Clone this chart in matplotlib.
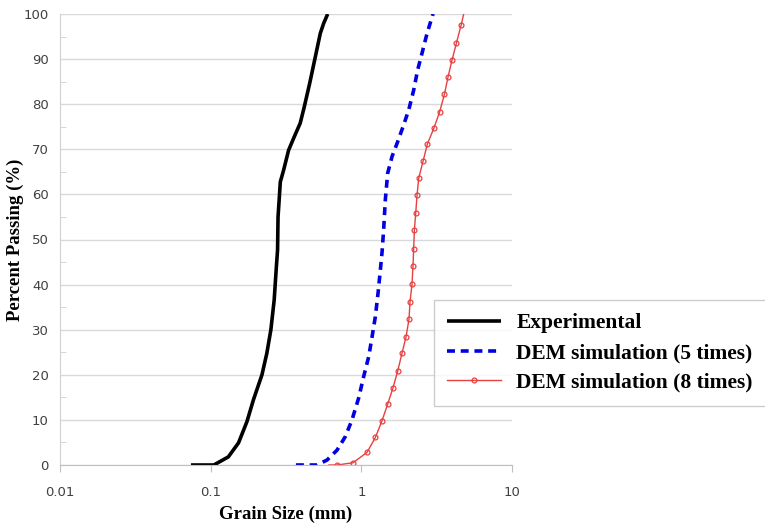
import numpy as np
import matplotlib
matplotlib.use("Agg")
import matplotlib.pyplot as plt
from matplotlib.ticker import FixedLocator, NullLocator

# ----------------------------------------
# data
# ----------------------------------------
exp_size = [0.074, 0.105, 0.131, 0.153, 0.174, 0.192, 0.219, 0.236, 0.251, 0.264,
            0.272, 0.278, 0.280, 0.290, 0.305, 0.329, 0.359, 0.393, 0.418, 0.454,
            0.495, 0.534, 0.562, 0.598]
exp_pass = [0, 0, 1.8, 4.9, 9.6, 14.4, 20.0, 24.8, 30.0, 36.6,
            43.2, 47.7, 55.0, 62.8, 65.4, 69.8, 72.8, 75.8, 79.4, 84.6,
            90.5, 95.7, 97.9, 100]

dem5_size = [0.368, 0.508, 0.592, 0.690, 0.783, 0.867, 0.959, 1.036, 1.119, 1.178,
             1.239, 1.290, 1.337, 1.371, 1.406, 1.443, 1.496, 1.599, 1.726, 1.891,
             2.062, 2.225, 2.365, 2.528, 2.730, 2.990]
dem5_pass = [0, 0, 1.1, 3.3, 6.3, 10.0, 14.8, 19.6, 24.0, 28.4,
             32.9, 38.0, 43.2, 47.0, 52.1, 58.8, 64.7, 68.4, 71.3, 75.0,
             78.7, 83.1, 87.6, 91.3, 95.7, 100]

dem8_size = [0.689, 0.881, 1.091, 1.239, 1.371, 1.496, 1.622, 1.742, 1.862, 1.980,
             2.073, 2.104, 2.169, 2.203, 2.225, 2.249, 2.296, 2.344, 2.404, 2.570,
             2.745, 3.040, 3.310, 3.560, 3.760, 4.000, 4.280, 4.600, 4.780]
dem8_pass = [0, 0.5, 2.8, 6.1, 9.8, 13.5, 17.1, 20.8, 24.8, 28.4,
             32.4, 36.2, 40.1, 44.2, 48.0, 52.0, 55.9, 59.9, 63.6, 67.4,
             71.2, 74.8, 78.3, 82.2, 86.0, 89.8, 93.6, 97.6, 100]

x_ticks = [0.01, 0.1, 1, 10]
x_labels = ["0.01", "0.1", "1", "10"]
y_ticks = list(range(0, 101, 10))

# ----------------------------------------
# draw
# ----------------------------------------
plt.rcParams['font.family'] = ['DejaVu Sans']
fig = plt.figure(figsize=(7.65, 5.26), dpi=100)
ax = fig.add_axes([60/765, 1 - 465/526, 452/765, 451/526])

ax.plot(exp_size, exp_pass, color='black', lw=2.6, solid_capstyle='butt',
        label='Experimental')
ax.plot(dem5_size, dem5_pass, color='#0000e0', lw=2.6, ls=(0, (2.2, 1.6)),
        label='DEM simulation (5 times)')
ax.plot([0.61] + dem8_size, [0] + dem8_pass, color='#e84040', lw=1.0,
        marker='o', ms=3.5, mfc='none', mec='#e84040', mew=0.9,
        markevery=list(range(1, len(dem8_size))),
        label='DEM simulation (8 times)')

ax.set_xscale('log')
ax.set_xlim(0.01, 10)
ax.set_ylim(0, 100)
ax.xaxis.set_major_locator(FixedLocator(x_ticks))
ax.xaxis.set_minor_locator(NullLocator())
ax.set_xticks(x_ticks)
ax.set_xticklabels(x_labels)
ax.set_yticks(y_ticks)
ax.yaxis.set_minor_locator(FixedLocator(list(range(5, 100, 10))))

ax.grid(axis='y', which='major', color='#d9d9d9', lw=1.0)
ax.set_axisbelow(True)
for side in ['top', 'right']:
    ax.spines[side].set_visible(False)
ax.spines['left'].set_color('#d0d0d0')
ax.spines['bottom'].set_color('#bfbfbf')
ax.tick_params(axis='x', which='major', length=5, color='#bfbfbf',
               labelsize=9.5, labelcolor='#404040', pad=10)
ax.tick_params(axis='y', which='major', length=0, labelsize=9.5,
               labelcolor='#404040', pad=8)
ax.tick_params(axis='y', which='minor', length=4, direction='in', color='#d0d0d0')

ax.set_xlabel('Grain Size (mm)', family='Liberation Serif', weight='bold',
              fontsize=13.5)
ax.xaxis.set_label_coords(0.5, -0.09)
ax.set_ylabel('Percent Passing (%)', family='Liberation Serif', weight='bold',
              fontsize=13.5)
ax.yaxis.set_label_coords(-36/452, 0.5)

leg = fig.legend(loc='upper left', bbox_to_anchor=(434/765, 1 - 300/526),
                 prop={'family': 'Liberation Serif', 'weight': 'bold', 'size': 15.5},
                 frameon=True, fancybox=False, edgecolor='#c0c0c0',
                 handlelength=2.5, handletextpad=0.7, borderpad=0.62,
                 borderaxespad=0, labelspacing=0.45)
leg.get_frame().set_linewidth(1.0)

fig.savefig('out.png', dpi=100)
